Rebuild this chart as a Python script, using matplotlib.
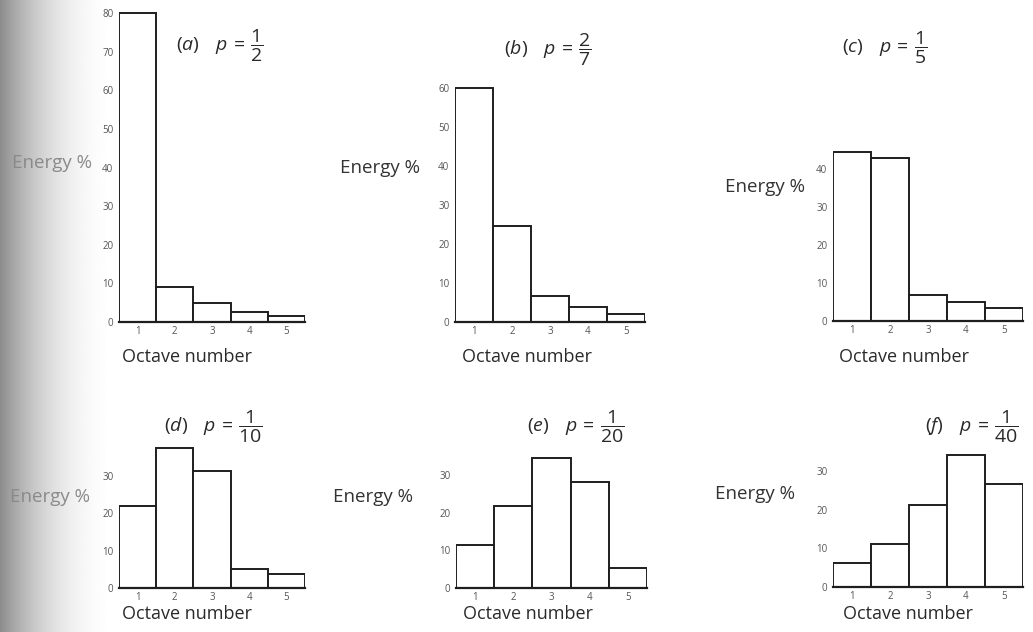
import matplotlib
matplotlib.use("Agg")
import matplotlib.pyplot as plt
import numpy as np

plt.rcParams['font.family'] = ['Open Sans', 'DejaVu Sans']
plt.rcParams['mathtext.fontset'] = 'custom'
plt.rcParams['mathtext.rm'] = 'Open Sans'
plt.rcParams['mathtext.it'] = 'Open Sans:italic'

octaves = [1, 2, 3, 4, 5]
tick_labels = ['1', '2', '3', '4', '5']
panel_labels = ['(a)', '(b)', '(c)', '(d)', '(e)', '(f)']
p_labels = [r'\dfrac{1}{2}', r'\dfrac{2}{7}', r'\dfrac{1}{5}',
            r'\dfrac{1}{10}', r'\dfrac{1}{20}', r'\dfrac{1}{40}']
energy_a = [80, 9.1, 4.9, 2.6, 1.5]
energy_b = [60, 24.6, 6.7, 3.9, 2.0]
energy_c = [44.6, 42.9, 6.8, 4.9, 3.3]
energy_d = [22, 37.6, 31.5, 5.0, 3.7]
energy_e = [11.4, 21.7, 34.7, 28.2, 5.4]
energy_f = [6.1, 11.2, 21.3, 34.3, 26.8]
yticks_a = [0, 10, 20, 30, 40, 50, 60, 70, 80]
yticks_b = [0, 10, 20, 30, 40, 50, 60]
yticks_c = [0, 10, 20, 30, 40]
yticks_d = [0, 10, 20, 30]
yticks_e = [0, 10, 20, 30]
yticks_f = [0, 10, 20, 30]

W, H = 1033, 632
fig = plt.figure(figsize=(W / 100, H / 100), dpi=100)
fig.patch.set_facecolor('white')

# scan shadow at left edge
gax = fig.add_axes([0, 0, 120 / W, 1])
t = np.linspace(0, 1, 300)
shade = 1 - (1 - t) ** 2.2
img = np.tile(0.55 + 0.45 * shade, (10, 1))
gax.imshow(img, cmap='gray', vmin=0, vmax=1, aspect='auto', extent=[0, 1, 0, 1])
gax.axis('off')

def px_ax(x0, x1, y0, height):
    return fig.add_axes([x0 / W, (H - y0) / H, (x1 - x0) / W, height / H])

# (x_left, x_right, y_zero, px per unit, ymax)
layouts = [
    (119, 305, 322, 3.86, 81),
    (455, 645, 322, 3.90, 61),
    (833, 1023, 321, 3.80, 46),
    (119, 305, 588, 3.73, 39),
    (456, 647, 588, 3.76, 36),
    (833, 1023, 587, 3.86, 36),
]
datas = [energy_a, energy_b, energy_c, energy_d, energy_e, energy_f]
yticks = [yticks_a, yticks_b, yticks_c, yticks_d, yticks_e, yticks_f]
ylabel_pos = [(12, 163), (340, 168), (725, 187), (10, 497), (333, 497), (715, 494)]
ylabel_col = ['#8a8a8a', '#333333', '#333333', '#8a8a8a', '#333333', '#333333']
title_pos = [(220, 46), (548, 50), (885, 48), (213, 427), (576, 427), (972, 427)]
xlabel_pos = [(187, 357), (527, 357), (904, 357), (187, 614), (528, 614), (908, 614)]

ink = '#1e1e1e'
for i, (x0, x1, y0, s, ymax) in enumerate(layouts):
    ax = px_ax(x0, x1, y0, ymax * s)
    ax.set_facecolor('none')
    ax.bar(octaves, datas[i], width=1.0, color='white', edgecolor=ink,
           linewidth=1.4, zorder=2)
    ax.set_xlim(0.5, 5.5)
    ax.set_ylim(0, ymax)
    for sp in ['top', 'right', 'left']:
        ax.spines[sp].set_visible(False)
    ax.spines['bottom'].set_color(ink)
    ax.spines['bottom'].set_linewidth(1.6)
    ax.set_xticks(octaves)
    ax.set_xticklabels(tick_labels)
    ax.set_yticks(yticks[i])
    ax.tick_params(axis='both', length=0, labelsize=7, labelcolor='#555555')
    ax.tick_params(axis='y', pad=4)
    ax.tick_params(axis='x', pad=3)

    lx, ly = ylabel_pos[i]
    fig.text(lx / W, 1 - ly / H, 'Energy %', fontsize=13.5, color=ylabel_col[i],
             ha='left', va='center')
    tx, ty = title_pos[i]
    fig.text(tx / W, 1 - ty / H,
             r'$\mathit{' + panel_labels[i] + r'}\ \ \ \mathit{p}\,=\,' + p_labels[i] + '$',
             fontsize=14, color='#2a2a2a', ha='center', va='center')
    ox, oy = xlabel_pos[i]
    fig.text(ox / W, 1 - oy / H, 'Octave number', fontsize=13, color='#2a2a2a',
             ha='center', va='center')

fig.savefig('out.png', dpi=100, facecolor='white')
